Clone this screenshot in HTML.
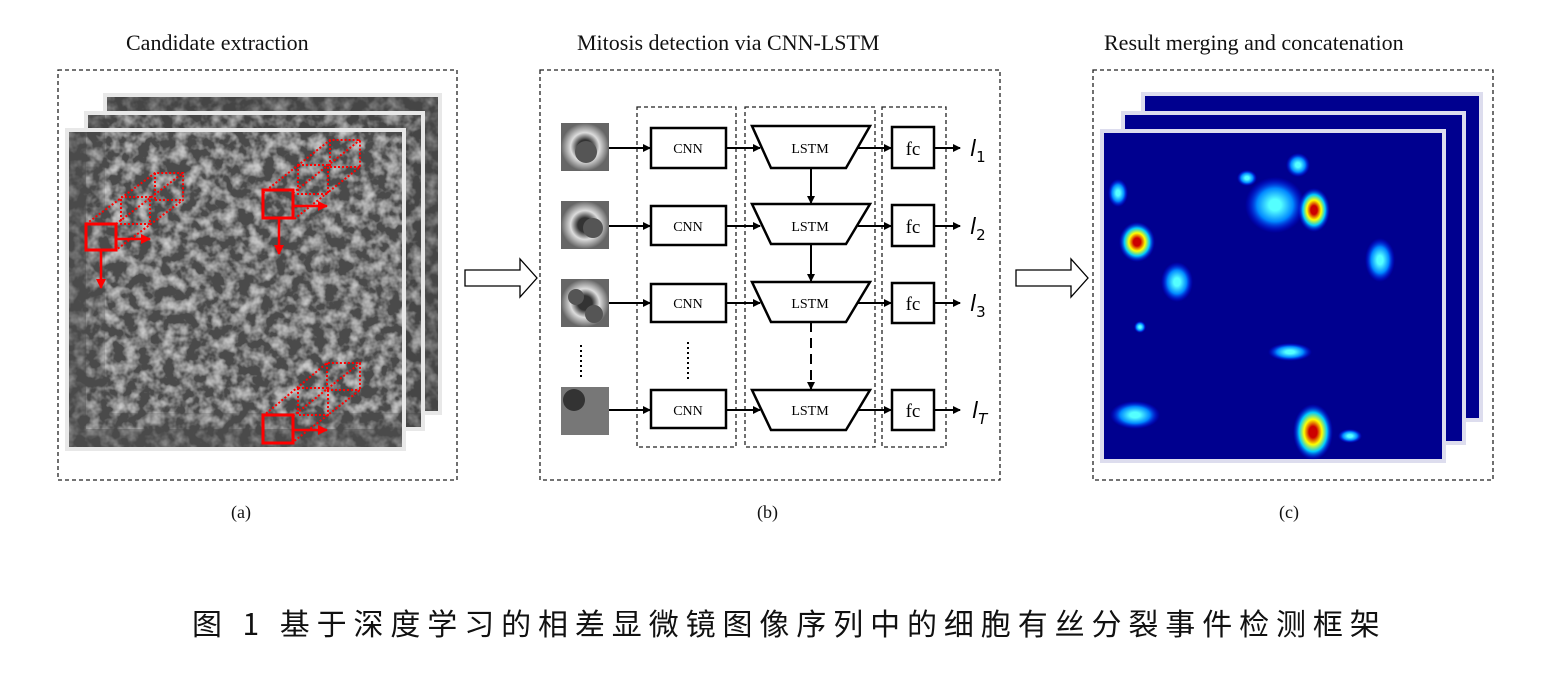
<!DOCTYPE html>
<html><head><meta charset="utf-8"><style>
body{margin:0;background:#fff;width:1547px;height:681px;overflow:hidden;position:relative;font-family:"Liberation Serif",serif}
.t{position:absolute;font-size:22px;color:#111;white-space:nowrap}
.s{position:absolute;font-size:18px;color:#111}
</style></head><body>
<div class="t" style="left:126px;top:30px">Candidate extraction</div>
<div class="t" style="left:577px;top:30px">Mitosis detection via CNN-LSTM</div>
<div class="t" style="left:1104px;top:30px">Result merging and concatenation</div>
<div class="s" style="left:231px;top:502px">(a)</div>
<div class="s" style="left:757px;top:502px">(b)</div>
<div class="s" style="left:1279px;top:502px">(c)</div>
<div style="position:absolute;left:192px;top:600px;font-size:30px;letter-spacing:6.9px;white-space:nowrap;font-family:'Noto Sans CJK SC',sans-serif;color:#111">图 1 基于深度学习的相差显微镜图像序列中的细胞有丝分裂事件检测框架</div>
<svg width="1547" height="681" style="position:absolute;left:0;top:0">
<defs>
<filter id="n" x="0" y="0" width="1" height="1"><feTurbulence type="fractalNoise" baseFrequency="0.08" numOctaves="3" seed="3"/><feColorMatrix type="matrix" values="0 0 0 0 0.8 0 0 0 0 0.8 0 0 0 0 0.8 0 0 0 0.9 -0.35"/></filter>
<marker id="a" markerWidth="8" markerHeight="8" refX="7" refY="4" orient="auto" markerUnits="userSpaceOnUse"><path d="M0,0L8,4L0,8z" fill="#000"/></marker>
<marker id="r" markerWidth="10" markerHeight="10" refX="9" refY="5" orient="auto" markerUnits="userSpaceOnUse"><path d="M0,0L10,5L0,10z" fill="#f00"/></marker>
<radialGradient id="hr"><stop offset="0.2" stop-color="#c00"/><stop offset="0.45" stop-color="#ff0"/><stop offset="0.7" stop-color="#0cf"/><stop offset="1" stop-color="#00f" stop-opacity="0"/></radialGradient>
<radialGradient id="hc"><stop offset="0.2" stop-color="#5ff"/><stop offset="0.6" stop-color="#08f"/><stop offset="1" stop-color="#00f" stop-opacity="0"/></radialGradient>
<radialGradient id="cell"><stop offset="0.3" stop-color="#333"/><stop offset="0.6" stop-color="#ddd"/><stop offset="1" stop-color="#666"/></radialGradient>
</defs>
<g fill="none" stroke="#222" stroke-width="1.3" stroke-dasharray="4,3">
<rect x="58" y="70" width="399" height="410"/>
<rect x="540" y="70" width="460" height="410"/>
<rect x="1093" y="70" width="400" height="410"/>
<rect x="637" y="107" width="99" height="340"/>
<rect x="745" y="107" width="130" height="340"/>
<rect x="882" y="107" width="64" height="340"/>
</g>
<g stroke="#e8e8e8" stroke-width="4">
<rect x="105" y="95" width="335" height="318" fill="#454545"/>
<rect x="86" y="113" width="337" height="316" fill="#454545"/>
<rect x="67" y="130" width="337" height="319" fill="#4a4a4a"/>
</g>
<rect x="105" y="95" width="335" height="318" filter="url(#n)"/>
<rect x="86" y="113" width="337" height="316" filter="url(#n)"/>
<rect x="67" y="130" width="337" height="319" filter="url(#n)"/>
<g stroke="#f00" fill="none">
<g stroke-width="2" stroke-dasharray="2,2">
<path d="M86,224L155,173H183V200L116,250M116,224L183,173M155,200H183M155,173V200M121,197H150V224H121Z"/>
<path d="M263,193L330,140H360V167L293,220M293,193L360,140M330,167H360M330,140V167M298,165H328V194H298Z"/>
<path d="M263,416L327,363H360V390L293,442M293,416L360,363M327,390H360M327,363V390M298,388H328V415H298Z"/>
</g>
<g stroke-width="3">
<rect x="86" y="224" width="30" height="26"/><rect x="263" y="190" width="30" height="28"/><rect x="263" y="415" width="30" height="28"/>
</g>
<g stroke-width="2.5" marker-end="url(#r)">
<path d="M116,239H150"/><path d="M101,250V288"/><path d="M293,206H327"/><path d="M279,218V254"/><path d="M293,430H327"/>
</g>
</g>
<g fill="#fff" stroke="#000" stroke-width="1.3">
<path d="M465,270H520V259L537,278L520,297V286H465Z"/>
<path d="M1016,270H1071V259L1088,278L1071,297V286H1016Z"/>
</g>
<g fill="url(#cell)">
<rect x="561" y="123" width="48" height="48"/><rect x="561" y="201" width="48" height="48"/><rect x="561" y="279" width="48" height="48"/>
</g>
<rect x="561" y="387" width="48" height="48" fill="#777"/>
<g fill="#555"><circle cx="586" cy="152" r="11"/><circle cx="593" cy="228" r="10"/><circle cx="576" cy="297" r="8"/><circle cx="594" cy="314" r="9"/><circle cx="574" cy="400" r="11" fill="#333"/></g>
<g stroke="#000" stroke-width="2.5" fill="#fff">
<rect x="651" y="128" width="75" height="40"/><rect x="651" y="206" width="75" height="39"/><rect x="651" y="284" width="75" height="38"/><rect x="651" y="390" width="75" height="38"/>
<path d="M752,126H870L846,168H771Z"/><path d="M752,204H870L846,244H771Z"/><path d="M752,282H870L846,322H771Z"/><path d="M752,390H870L846,430H771Z"/>
<rect x="892" y="127" width="42" height="41"/><rect x="892" y="205" width="42" height="41"/><rect x="892" y="283" width="42" height="40"/><rect x="892" y="390" width="42" height="40"/>
</g>
<g stroke="#000" stroke-width="2" marker-end="url(#a)">
<path d="M609,148H650"/><path d="M609,226H650"/><path d="M609,303H650"/><path d="M609,410H650"/>
<path d="M726,148H760"/><path d="M726,226H760"/><path d="M726,303H760"/><path d="M726,410H760"/>
<path d="M858,148H891"/><path d="M858,226H891"/><path d="M858,303H891"/><path d="M858,410H891"/>
<path d="M934,148H960"/><path d="M934,226H960"/><path d="M934,303H960"/><path d="M934,410H960"/>
<path d="M811,168V203"/><path d="M811,244V281"/><path d="M811,322V389" stroke-dasharray="10,6"/>
</g>
<g stroke="#000" stroke-width="2" stroke-dasharray="2,3"><path d="M581,345V380M688,342V380"/></g>
<g font-family="Liberation Serif,serif" font-size="14" text-anchor="middle" fill="#000">
<text x="688" y="153">CNN</text><text x="688" y="231">CNN</text><text x="688" y="308">CNN</text><text x="688" y="415">CNN</text>
<text x="810" y="153">LSTM</text><text x="810" y="231">LSTM</text><text x="810" y="308">LSTM</text><text x="810" y="415">LSTM</text>
<g font-size="19"><text x="913" y="155">fc</text><text x="913" y="233">fc</text><text x="913" y="310">fc</text><text x="913" y="417">fc</text></g>
</g>
<g font-family="DejaVu Sans,sans-serif" font-size="22" font-style="italic" fill="#000">
<text x="970" y="156">l<tspan font-size="15" font-style="normal" dy="6">1</tspan></text>
<text x="970" y="234">l<tspan font-size="15" font-style="normal" dy="6">2</tspan></text>
<text x="970" y="311">l<tspan font-size="15" font-style="normal" dy="6">3</tspan></text>
<text x="972" y="418">l<tspan font-size="15" dy="6">T</tspan></text>
</g>
<g stroke="#dde" stroke-width="4" fill="#00008f">
<rect x="1143" y="94" width="338" height="326"/>
<rect x="1123" y="113" width="341" height="330"/>
<rect x="1102" y="131" width="342" height="330"/>
</g>
<g>
<ellipse cx="1275" cy="205" rx="30" ry="28" fill="url(#hc)"/>
<ellipse cx="1298" cy="165" rx="12" ry="12" fill="url(#hc)"/>
<ellipse cx="1118" cy="193" rx="10" ry="14" fill="url(#hc)"/>
<ellipse cx="1177" cy="282" rx="16" ry="20" fill="url(#hc)"/>
<ellipse cx="1380" cy="260" rx="15" ry="22" fill="url(#hc)"/>
<ellipse cx="1290" cy="352" rx="22" ry="9" fill="url(#hc)"/>
<ellipse cx="1140" cy="327" rx="6" ry="6" fill="url(#hc)"/>
<ellipse cx="1135" cy="415" rx="25" ry="14" fill="url(#hc)"/>
<ellipse cx="1350" cy="436" rx="12" ry="7" fill="url(#hc)"/>
<ellipse cx="1247" cy="178" rx="10" ry="8" fill="url(#hc)"/>
<ellipse cx="1137" cy="242" rx="18" ry="20" fill="url(#hr)"/>
<ellipse cx="1314" cy="210" rx="16" ry="22" fill="url(#hr)"/>
<ellipse cx="1313" cy="432" rx="20" ry="28" fill="url(#hr)"/>
</g>
</svg>
</body></html>
